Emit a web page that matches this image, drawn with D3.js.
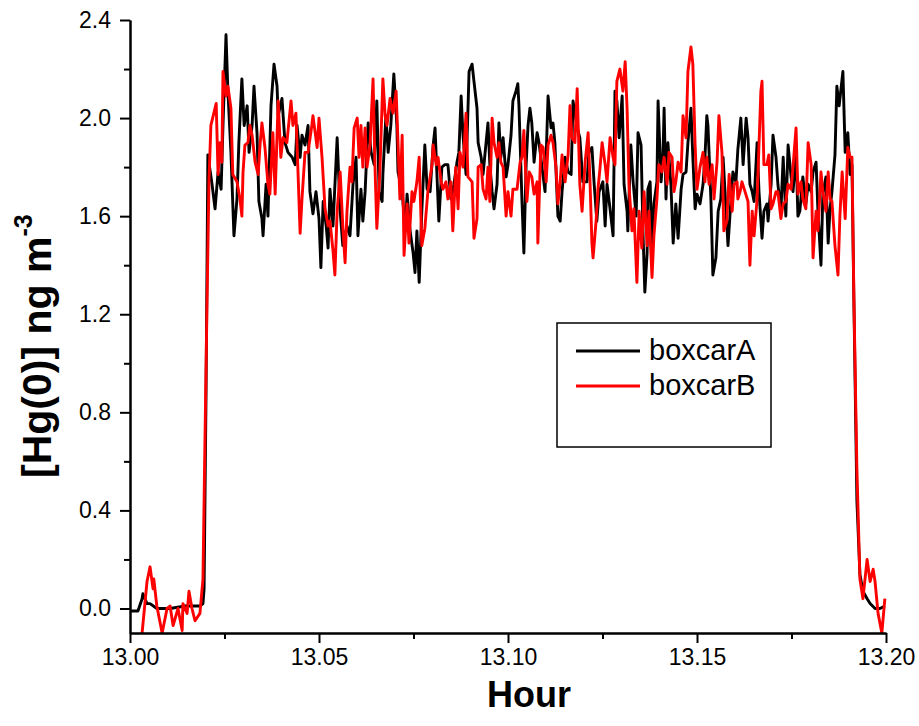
<!DOCTYPE html>
<html><head><meta charset="utf-8">
<script src="https://cdn.jsdelivr.net/npm/d3@7"></script>
<style>
html,body{margin:0;padding:0;background:#fff;}
svg{display:block;}
text{font-family:"Liberation Sans",Arial,sans-serif;fill:#000;}
</style></head>
<body>
<svg id="chart" width="919" height="726"></svg>
<script>
// ---- data ----
const seriesNames = ["boxcarA", "boxcarB"];
const seriesColors = ["#000000", "#ff0000"];
const xTickValues = [13.00, 13.05, 13.10, 13.15, 13.20];
const xMinorTicks = [13.025, 13.075, 13.125, 13.175];
const yTickValues = [0.0, 0.4, 0.8, 1.2, 1.6, 2.0, 2.4];
const yMinorTicks = [0.2, 0.6, 1.0, 1.4, 1.8, 2.2];

const hourA = [13.0000,13.0021,13.0032,13.0034,13.0045,13.0053,13.0071,13.0106,13.0146,13.0185,13.0193,13.0196,13.0201,13.0206,
13.0217,13.0225,13.0233,13.0241,13.0246,13.0254,13.0259,13.0267,13.0275,13.0283,13.0288,13.0296,13.0302,13.0310,13.0315,13.0323,
13.0328,13.0336,13.0341,13.0349,13.0352,13.0360,13.0365,13.0373,13.0381,13.0389,13.0392,13.0402,13.0410,13.0418,13.0429,13.0437,
13.0442,13.0450,13.0455,13.0463,13.0471,13.0476,13.0484,13.0492,13.0500,13.0505,13.0511,13.0519,13.0524,13.0529,13.0537,13.0548,
13.0556,13.0563,13.0574,13.0582,13.0590,13.0598,13.0603,13.0611,13.0616,13.0622,13.0630,13.0638,13.0646,13.0653,13.0659,13.0667,
13.0669,13.0677,13.0683,13.0690,13.0698,13.0706,13.0709,13.0720,13.0728,13.0733,13.0741,13.0749,13.0754,13.0759,13.0765,13.0772,
13.0780,13.0786,13.0794,13.0802,13.0807,13.0812,13.0817,13.0825,13.0833,13.0841,13.0849,13.0857,13.0865,13.0870,13.0876,13.0881,
13.0889,13.0897,13.0905,13.0910,13.0918,13.0921,13.0929,13.0934,13.0942,13.0947,13.0952,13.0958,13.0963,13.0971,13.0976,13.0981,
13.0987,13.0995,13.1000,13.1008,13.1013,13.1021,13.1026,13.1029,13.1037,13.1042,13.1048,13.1053,13.1058,13.1063,13.1069,13.1077,
13.1082,13.1090,13.1098,13.1106,13.1114,13.1119,13.1124,13.1132,13.1138,13.1143,13.1151,13.1159,13.1167,13.1172,13.1183,13.1190,
13.1198,13.1209,13.1214,13.1222,13.1228,13.1235,13.1241,13.1251,13.1257,13.1262,13.1270,13.1278,13.1283,13.1288,13.1294,13.1302,
13.1307,13.1315,13.1317,13.1325,13.1331,13.1339,13.1344,13.1352,13.1357,13.1362,13.1368,13.1370,13.1376,13.1381,13.1386,13.1394,
13.1397,13.1405,13.1410,13.1413,13.1418,13.1423,13.1431,13.1437,13.1444,13.1450,13.1458,13.1463,13.1471,13.1476,13.1484,13.1489,
13.1495,13.1500,13.1508,13.1516,13.1521,13.1526,13.1529,13.1537,13.1542,13.1550,13.1556,13.1563,13.1569,13.1577,13.1582,13.1590,
13.1595,13.1603,13.1608,13.1616,13.1622,13.1630,13.1635,13.1640,13.1646,13.1651,13.1659,13.1664,13.1672,13.1677,13.1685,13.1688,
13.1696,13.1701,13.1709,13.1714,13.1722,13.1728,13.1735,13.1741,13.1749,13.1754,13.1762,13.1767,13.1772,13.1780,13.1788,13.1794,
13.1802,13.1807,13.1815,13.1820,13.1828,13.1833,13.1841,13.1847,13.1852,13.1857,13.1865,13.1870,13.1876,13.1881,13.1886,13.1892,
13.1899,13.1905,13.1910,13.1915,13.1923,13.1931,13.1939,13.1950,13.1958,13.1971,13.1984,13.1997];
const concA = [-0.01,-0.01,0.04,0.06,0.02,0.02,0.00,0.00,0.01,0.01,0.02,0.08,0.85,1.85,
1.73,1.63,1.78,1.71,1.97,2.34,2.11,1.86,1.52,1.67,1.90,2.16,1.97,2.05,1.86,1.97,
2.13,1.94,1.66,1.59,1.52,1.73,1.60,2.05,2.22,2.13,2.01,2.08,1.90,1.86,1.84,1.81,
1.97,1.84,1.93,1.89,1.97,1.70,1.61,1.70,1.59,1.39,1.66,1.56,1.47,1.71,1.56,1.92,
1.62,1.48,1.56,1.52,1.73,1.84,1.52,1.71,1.58,1.70,1.98,1.86,1.81,2.07,1.70,1.66,
1.77,2.01,1.86,1.97,2.18,1.97,1.78,1.70,1.54,1.69,1.54,1.45,1.37,1.54,1.33,1.62,
1.89,1.71,1.70,1.89,1.96,1.77,1.58,1.80,1.81,1.81,1.67,1.73,1.82,1.86,2.09,1.93,
1.77,2.19,2.22,2.15,2.04,1.90,1.84,1.77,1.90,1.98,1.81,1.70,1.63,1.73,1.98,1.84,
1.92,1.76,1.81,1.93,2.07,2.11,2.14,2.05,1.66,1.45,1.81,1.97,2.04,1.98,1.82,1.94,
1.90,1.80,1.70,2.09,1.96,1.98,1.90,1.60,1.58,1.70,1.84,1.78,1.77,2.07,1.96,1.92,
1.74,1.74,1.86,1.88,1.73,1.58,1.70,1.74,1.56,1.73,1.63,1.52,2.11,2.07,1.92,2.09,
1.73,1.62,1.54,1.89,1.74,1.60,1.94,1.89,1.54,1.29,1.45,1.71,1.74,1.45,1.65,1.74,
2.07,1.74,1.85,2.04,1.67,1.90,1.73,1.49,1.65,1.51,1.71,1.77,1.78,1.90,2.04,1.84,
1.63,1.69,1.65,1.73,1.84,2.01,1.97,1.66,1.36,1.43,1.62,1.67,1.84,1.62,1.48,1.67,
1.78,1.74,1.87,2.00,1.81,2.00,1.92,1.73,1.70,1.66,1.90,1.70,1.51,1.62,1.65,1.58,
1.73,1.93,1.84,1.73,1.62,1.84,1.60,1.89,1.76,1.70,1.86,1.60,1.62,1.76,1.65,1.73,
1.70,1.78,1.82,1.62,1.40,1.69,1.76,1.49,1.63,1.70,1.85,2.13,2.05,2.12,2.19,1.86,
1.94,1.77,1.81,1.26,0.44,0.14,0.07,0.04,0.02,0.00,0.00,0.01];

const hourB = [13.0032,13.0045,13.0053,13.0061,13.0063,13.0071,13.0085,13.0098,13.0106,13.0114,13.0127,13.0138,13.0140,13.0151,
13.0156,13.0164,13.0172,13.0185,13.0193,13.0198,13.0204,13.0209,13.0214,13.0228,13.0233,13.0238,13.0243,13.0246,13.0254,13.0259,
13.0267,13.0272,13.0283,13.0291,13.0296,13.0299,13.0304,13.0312,13.0317,13.0323,13.0331,13.0339,13.0344,13.0349,13.0357,13.0365,
13.0370,13.0378,13.0384,13.0392,13.0399,13.0405,13.0415,13.0426,13.0431,13.0439,13.0444,13.0450,13.0455,13.0463,13.0471,13.0481,
13.0484,13.0495,13.0500,13.0508,13.0516,13.0524,13.0529,13.0537,13.0542,13.0548,13.0556,13.0563,13.0569,13.0574,13.0582,13.0587,
13.0593,13.0601,13.0606,13.0611,13.0616,13.0622,13.0627,13.0635,13.0643,13.0648,13.0653,13.0661,13.0669,13.0675,13.0680,13.0688,
13.0696,13.0704,13.0709,13.0714,13.0720,13.0725,13.0733,13.0738,13.0746,13.0751,13.0759,13.0765,13.0772,13.0780,13.0788,13.0799,
13.0802,13.0810,13.0815,13.0823,13.0828,13.0836,13.0841,13.0849,13.0854,13.0862,13.0868,13.0873,13.0881,13.0889,13.0894,13.0905,
13.0910,13.0918,13.0921,13.0929,13.0934,13.0942,13.0947,13.0952,13.0958,13.0963,13.0971,13.0976,13.0981,13.0987,13.0995,13.1000,
13.1008,13.1013,13.1024,13.1032,13.1037,13.1042,13.1050,13.1056,13.1063,13.1069,13.1077,13.1079,13.1087,13.1093,13.1101,13.1106,
13.1114,13.1119,13.1127,13.1132,13.1138,13.1143,13.1151,13.1159,13.1164,13.1169,13.1177,13.1183,13.1190,13.1196,13.1204,13.1212,
13.1217,13.1222,13.1225,13.1233,13.1238,13.1243,13.1249,13.1257,13.1262,13.1270,13.1278,13.1283,13.1288,13.1296,13.1304,13.1310,
13.1315,13.1320,13.1328,13.1333,13.1341,13.1347,13.1354,13.1360,13.1368,13.1373,13.1381,13.1386,13.1394,13.1399,13.1407,13.1413,
13.1421,13.1426,13.1434,13.1439,13.1444,13.1450,13.1458,13.1463,13.1471,13.1476,13.1484,13.1489,13.1495,13.1500,13.1508,13.1516,
13.1521,13.1526,13.1532,13.1540,13.1545,13.1553,13.1558,13.1566,13.1571,13.1579,13.1585,13.1593,13.1598,13.1606,13.1608,13.1614,
13.1619,13.1627,13.1635,13.1640,13.1646,13.1651,13.1659,13.1664,13.1669,13.1672,13.1677,13.1685,13.1690,13.1696,13.1701,13.1709,
13.1714,13.1722,13.1728,13.1735,13.1741,13.1749,13.1754,13.1762,13.1767,13.1775,13.1780,13.1788,13.1794,13.1802,13.1807,13.1815,
13.1820,13.1828,13.1833,13.1841,13.1847,13.1852,13.1857,13.1865,13.1873,13.1878,13.1884,13.1892,13.1899,13.1905,13.1910,13.1915,
13.1923,13.1931,13.1939,13.1950,13.1958,13.1966,13.1971,13.1979,13.1989,13.1997];
const concB = [-0.10,0.11,0.17,0.08,0.12,0.01,-0.10,0.00,0.01,-0.07,0.00,-0.09,0.02,-0.02,
0.07,0.00,-0.05,-0.02,0.12,0.65,1.27,1.75,1.97,2.06,1.77,1.90,1.82,2.19,2.09,2.13,
2.04,1.77,1.74,1.67,1.60,1.78,1.89,1.90,1.97,1.93,1.82,1.77,1.89,1.98,1.88,1.73,
1.69,1.94,1.69,2.07,1.84,1.92,1.90,2.07,1.97,2.02,1.80,1.53,1.67,1.86,1.86,1.97,
2.01,1.88,2.00,1.84,1.63,1.56,1.58,1.46,1.36,1.62,1.78,1.56,1.41,1.62,1.80,1.74,
1.96,2.00,1.84,1.97,1.80,1.96,1.80,1.89,2.16,1.81,1.55,1.78,2.16,2.01,1.97,2.08,
2.02,2.11,1.90,1.67,1.93,1.44,1.65,1.49,1.70,1.66,1.74,1.84,1.48,1.55,1.70,1.81,
1.89,1.81,1.84,1.74,1.71,1.74,1.67,1.74,1.54,1.80,1.63,1.86,1.80,2.02,1.76,1.74,
1.51,1.59,1.80,1.81,1.71,1.67,1.80,1.66,2.00,1.90,1.84,1.90,1.82,1.80,1.60,1.70,
1.60,1.71,1.71,1.82,1.84,1.95,1.66,1.78,1.76,1.69,1.74,1.49,1.89,1.88,1.74,1.89,
1.93,1.90,1.80,1.65,1.74,1.85,1.74,1.85,2.05,1.92,1.90,2.12,1.73,1.62,1.82,1.94,
1.74,1.49,1.43,1.58,1.71,1.79,1.90,1.81,1.74,1.92,1.84,1.81,2.15,2.20,2.11,2.23,
2.04,1.73,1.54,1.63,1.33,1.62,1.47,1.70,1.48,1.62,1.35,1.52,1.67,1.81,1.78,1.84,
1.73,1.86,1.84,1.70,1.74,1.82,1.78,2.01,1.92,2.19,2.29,2.22,1.89,1.71,1.80,1.86,
1.74,1.84,1.73,1.81,1.67,1.82,2.01,1.86,1.54,1.58,1.77,1.62,1.73,1.74,1.67,1.70,
1.74,1.70,1.66,1.40,1.62,1.52,1.67,1.89,2.11,2.15,1.81,1.81,1.85,1.63,1.65,1.70,
1.70,1.59,1.65,1.66,1.73,1.71,1.80,1.96,1.69,1.74,1.67,1.63,1.90,1.81,1.43,1.62,
1.54,1.78,1.70,1.62,1.78,1.67,1.66,1.48,1.36,1.60,1.78,1.59,1.88,1.84,1.84,1.27,
0.57,0.12,0.04,0.20,0.11,0.16,0.11,-0.02,-0.10,0.04];

const yTitle = "[Hg(0)] ng m";
const yTitleSup = "-3";
const xTitle = "Hour";

// ---- drawing ----
const svg = d3.select("#chart");
const plotLeft = 130, plotRight = 886, plotTop = 20, plotBottom = 633;
const x = d3.scaleLinear().domain([13.0, 13.2]).range([plotLeft, plotRight]);
const y = d3.scaleLinear().domain([-0.1, 2.4]).range([plotBottom, plotTop]);

svg.append("defs").append("clipPath").attr("id", "plotclip")
  .append("rect").attr("x", plotLeft).attr("y", plotTop - 5)
  .attr("width", plotRight - plotLeft + 2).attr("height", plotBottom - plotTop + 5);

const line = d3.line().x(d => x(d[0])).y(d => y(d[1]));
const series = [d3.zip(hourA, concA), d3.zip(hourB, concB)];
const g = svg.append("g").attr("clip-path", "url(#plotclip)");
series.forEach((s, i) => {
  g.append("path").datum(s).attr("d", line)
    .attr("fill", "none").attr("stroke", seriesColors[i])
    .attr("stroke-width", 2.9).attr("stroke-linejoin", "round");
});

// axes
function styleAxis(sel) {
  sel.select(".domain").attr("stroke", "#000").attr("stroke-width", 2);
  sel.selectAll(".tick line").attr("stroke", "#000").attr("stroke-width", 2);
  sel.selectAll("text").style("font-size", "23px").style("font-family", '"Liberation Sans",Arial,sans-serif');
}
const xAxis = svg.append("g").attr("transform", `translate(0,${plotBottom})`)
  .call(d3.axisBottom(x).tickValues(xTickValues).tickFormat(d3.format(".2f")).tickSize(10).tickPadding(6).tickSizeOuter(0));
styleAxis(xAxis);
const xMinor = svg.append("g").attr("transform", `translate(0,${plotBottom})`)
  .call(d3.axisBottom(x).tickValues(xMinorTicks).tickFormat("").tickSize(6).tickSizeOuter(0));
styleAxis(xMinor);

const yAxis = svg.append("g").attr("transform", `translate(${plotLeft},0)`)
  .call(d3.axisLeft(y).tickValues(yTickValues).tickFormat(d3.format(".1f")).tickSize(10).tickPadding(9).tickSizeOuter(0));
styleAxis(yAxis);
const yMinor = svg.append("g").attr("transform", `translate(${plotLeft},0)`)
  .call(d3.axisLeft(y).tickValues(yMinorTicks).tickFormat("").tickSize(6).tickSizeOuter(0));
styleAxis(yMinor);

// titles
const yt = svg.append("text")
  .attr("transform", "translate(51,478) rotate(-90)")
  .attr("text-anchor", "start")
  .style("font-size", "41px").style("font-weight", "bold");
yt.append("tspan").text(yTitle);
yt.append("tspan").attr("dy", "-0.75em").style("font-size", "25px").text(yTitleSup);

svg.append("text").attr("x", 529).attr("y", 707).attr("text-anchor", "middle")
  .style("font-size", "36px").style("font-weight", "bold").text(xTitle);

// legend
const lg = svg.append("g");
lg.append("rect").attr("x", 557).attr("y", 323).attr("width", 214).attr("height", 124)
  .attr("fill", "#fff").attr("stroke", "#000").attr("stroke-width", 1.5);
seriesNames.forEach((name, i) => {
  const ly = 351 + i * 35;
  lg.append("line").attr("x1", 576).attr("x2", 640).attr("y1", ly).attr("y2", ly)
    .attr("stroke", seriesColors[i]).attr("stroke-width", 2.9);
  lg.append("text").attr("x", 649).attr("y", ly + 9).style("font-size", "29px").text(name);
});
</script>
</body></html>
